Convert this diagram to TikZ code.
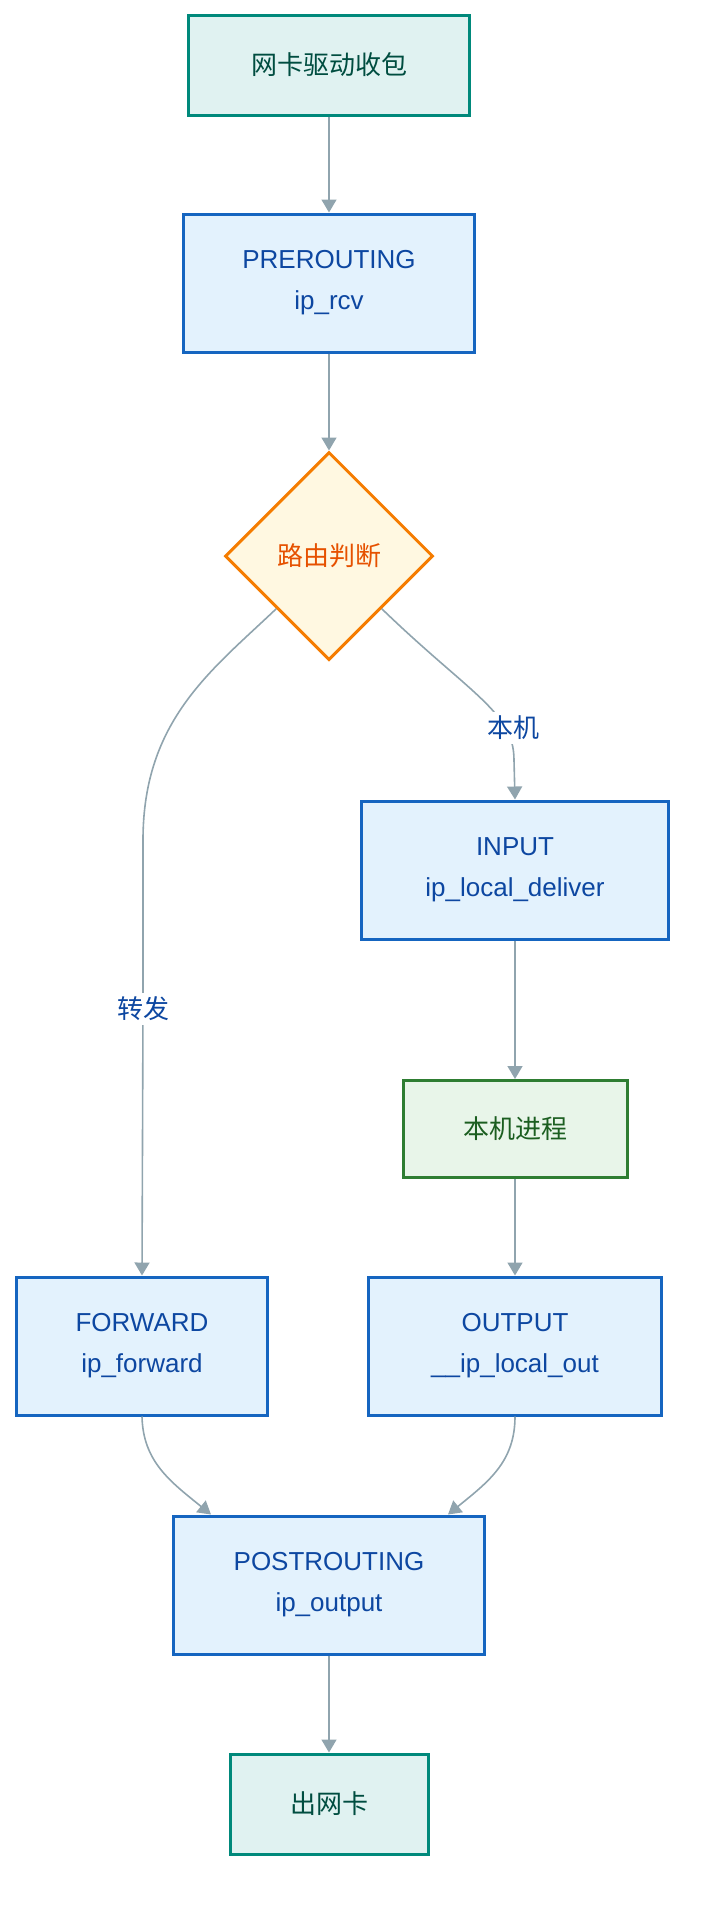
\documentclass[tikz,border=0pt]{standalone}
\usepackage{fontspec}
\setmainfont{Liberation Sans}
\newfontfamily\cjk{Noto Sans CJK SC}
\usetikzlibrary{shapes.geometric,arrows.meta}
\definecolor{tealline}{HTML}{00897B}
\definecolor{tealfill}{HTML}{E0F2F1}
\definecolor{tealtext}{HTML}{004D40}
\definecolor{blueline}{HTML}{1565C0}
\definecolor{bluefill}{HTML}{E3F2FD}
\definecolor{bluetext}{HTML}{0D47A1}
\definecolor{orangeline}{HTML}{F57C00}
\definecolor{orangefill}{HTML}{FFF8E1}
\definecolor{orangetext}{HTML}{E65100}
\definecolor{greenline}{HTML}{2E7D32}
\definecolor{greenfill}{HTML}{E8F5E9}
\definecolor{greentext}{HTML}{1B5E20}
\definecolor{edgegrey}{HTML}{90A4AE}
\tikzstyle{nic}=[rectangle, draw=tealline, fill=tealfill, text=tealtext, line width=3pt, minimum height=100pt, font=\cjk\fontsize{26}{30}\selectfont]
\tikzstyle{hook}=[rectangle, draw=blueline, fill=bluefill, text=bluetext, line width=3pt, align=center, minimum height=138pt, font=\fontsize{26}{41}\selectfont]
\tikzstyle{decision}=[diamond, aspect=1, inner sep=0pt, minimum size=208pt, draw=orangeline, fill=orangefill, text=orangetext, line width=3pt, font=\cjk\fontsize{26}{30}\selectfont]
\tikzstyle{proc}=[rectangle, draw=greenline, fill=greenfill, text=greentext, line width=3pt, minimum height=97pt, font=\cjk\fontsize{26}{30}\selectfont]
\tikzstyle{flow}=[draw=edgegrey, line width=1.6pt, -{Triangle[length=13pt,width=15pt]}]
\tikzstyle{elabel}=[fill=white, text=bluetext, inner sep=4pt, font=\cjk\fontsize{26}{30}\selectfont]
\begin{document}
\begin{tikzpicture}[x=1pt, y=-1pt]
		   \useasboundingbox (0,0) rectangle (702,1912);
		   \begin{scope}
			   \node (0) at (329, 65)[nic, minimum width=281pt] {网卡驱动收包};
			   \node (1) at (329, 283)[hook, minimum width=291pt] {PREROUTING\\ip\_rcv};
			   \node (2) at (329, 556)[decision] {路由判断};
			   \node (3) at (142, 1346)[hook, minimum width=251pt] {FORWARD\\ip\_forward};
			   \node (4) at (515, 870)[hook, minimum width=307pt] {INPUT\\ip\_local\_deliver};
			   \node (5) at (515, 1129)[proc, minimum width=224pt] {本机进程};
			   \node (6) at (515, 1346)[hook, minimum width=293pt] {OUTPUT\\\_\_ip\_local\_out};
			   \node (7) at (329, 1585)[hook, minimum width=311pt] {POSTROUTING\\ip\_output};
			   \node (8) at (329, 1804)[nic, minimum width=198pt] {出网卡};
		   \end{scope}
		   \begin{scope}
			   \path (0) edge[flow] (1);
			   \path (1) edge[flow] (2);
			   \draw [flow] (2.-45) .. controls (470, 694) and (514, 712) .. node[elabel, pos=0.75, xshift=8pt] (9) {本机} (514, 760) -- (4.north);
			   \draw [flow] (2.-135) .. controls (212, 670) and (143, 720) .. (143, 840) -- (143, 1009) node[elabel] (10) {转发} -- (3.north);
			   \path (4) edge[flow] (5);
			   \path (5) edge[flow] (6);
			   \draw [flow] (3.south) .. controls (143, 1462) and (171, 1482) .. ([xshift=-118pt]7.north);
			   \draw [flow] (6.south) .. controls (515, 1462) and (488, 1482) .. ([xshift=119pt]7.north);
			   \path (7) edge[flow] (8);
		   \end{scope}
	   \end{tikzpicture}
\end{document}
